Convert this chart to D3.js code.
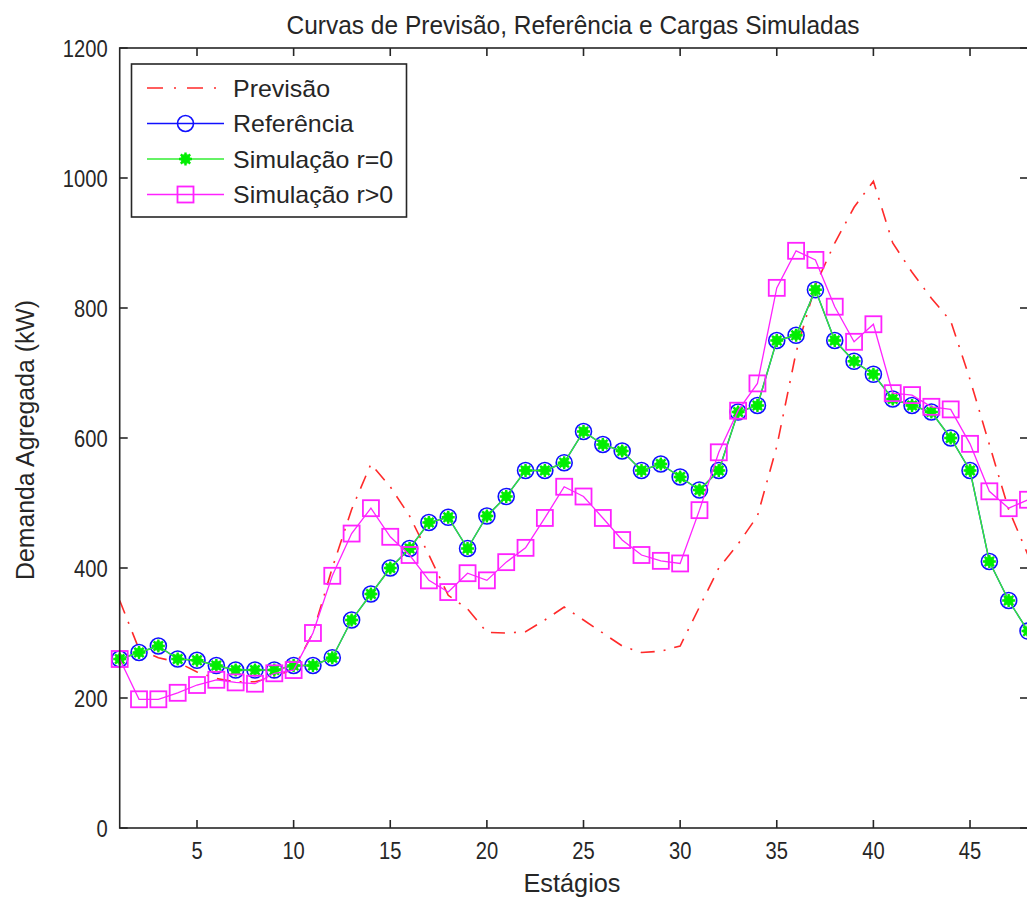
<!DOCTYPE html>
<html lang="pt">

<head>
    <meta charset="UTF-8">
    <title>Curvas de Previsão, Referência e Cargas Simuladas</title>
    <script src="https://cdn.jsdelivr.net/npm/d3@7"></script>
    <style>
        body { margin: 0; background: #fff; }
        svg { display: block; font-family: "Liberation Sans", Arial, sans-serif; }
        text { fill: #262626; }
    </style>
</head>

<body>
    <svg id="chart" width="1027" height="898"></svg>
    <script>
    var estagios = [1, 2, 3, 4, 5, 6, 7, 8, 9, 10, 11, 12, 13, 14, 15, 16, 17, 18, 19, 20, 21, 22, 23, 24,
        25, 26, 27, 28, 29, 30, 31, 32, 33, 34, 35, 36, 37, 38, 39, 40, 41, 42, 43, 44, 45, 46, 47, 48];

    var previsao = [350, 275, 262, 255, 240, 230, 225, 225, 232, 245, 300, 400, 490, 560, 525, 480,
        420, 358, 337, 301, 300, 302, 320, 340, 320, 300, 280, 270, 272, 280, 340, 400,
        437, 480, 587, 732, 835, 900, 955, 995, 900, 855, 815, 780, 690, 590, 490, 420];

    var referencia = [260, 270, 280, 260, 258, 250, 243, 243, 243, 250, 250, 262, 320, 360, 400, 430,
        470, 478, 430, 480, 510, 550, 550, 562, 610, 590, 580, 550, 560, 540, 520, 550,
        640, 650, 750, 758, 828, 750, 718, 698, 660, 650, 640, 600, 550, 410, 350, 303];

    var simR0 = [260, 270, 280, 260, 258, 250, 243, 243, 243, 250, 250, 262, 320, 360, 400, 430,
        470, 478, 430, 480, 510, 550, 550, 562, 610, 590, 580, 550, 560, 540, 520, 550,
        640, 650, 750, 758, 828, 750, 718, 698, 660, 650, 640, 600, 550, 410, 350, 303];

    var simRpos = [260, 198, 198, 208, 220, 228, 224, 222, 238, 243, 300, 388, 453, 492, 448, 420,
        381, 363, 392, 381, 409, 431, 477, 525, 510, 477, 443, 420, 411, 407, 489, 578,
        642, 684, 831, 888, 874, 802, 748, 775, 669, 666, 648, 644, 591, 518, 492, 505];

    var xTicks = [5, 10, 15, 20, 25, 30, 35, 40, 45];
    var yTicks = [0, 200, 400, 600, 800, 1000, 1200];

    var titulo = 'Curvas de Previsão, Referência e Cargas Simuladas',
        xLabel = 'Estágios',
        yLabel = 'Demanda Agregada (kW)';

    var legendas = ['Previsão', 'Referência', 'Simulação r=0', 'Simulação r>0'];

    var svg = d3.select('#chart'),
        plotLeft = 119.7,
        plotRight = 1028,
        plotTop = 48,
        plotBottom = 828;

    var x = d3.scaleLinear().domain([1, 48]).range([plotLeft, plotRight]);
    var y = d3.scaleLinear().domain([0, 1200]).range([plotBottom, plotTop]);

    var line = function(values) {
        return d3.line()
            .x(function(d, i) { return x(estagios[i]); })
            .y(function(d) { return y(d); })(values);
    };

    var plot = svg.append('g');

    // markers
    var drawCircle = function(g, cx, cy) {
        g.append('circle').attr('cx', cx).attr('cy', cy).attr('r', 8)
            .attr('fill', 'none').attr('stroke', '#1010ff').attr('stroke-width', 1.6);
    };
    var drawStar = function(g, cx, cy) {
        g.append('circle').attr('cx', cx).attr('cy', cy).attr('r', 5).attr('fill', '#22ee22');
        var s = 6.5, k = s * 0.72;
        g.append('path')
            .attr('d', 'M' + (cx - s) + ',' + cy + 'h' + (2 * s) + 'M' + cx + ',' + (cy - s) + 'v' + (2 * s) +
                'M' + (cx - k) + ',' + (cy - k) + 'l' + (2 * k) + ',' + (2 * k) +
                'M' + (cx - k) + ',' + (cy + k) + 'l' + (2 * k) + ',' + (-2 * k))
            .attr('stroke', '#00ee00').attr('stroke-width', 2.4);
    };
    var drawSquare = function(g, cx, cy) {
        g.append('rect').attr('x', cx - 8).attr('y', cy - 8).attr('width', 16).attr('height', 16)
            .attr('fill', 'none').attr('stroke', '#ff22ff').attr('stroke-width', 1.8);
    };

    // previsao
    plot.append('path').attr('d', line(previsao))
        .attr('fill', 'none').attr('stroke', '#ff2a2a').attr('stroke-width', 1.6)
        .attr('stroke-dasharray', '14,9,2,9');

    // referencia
    plot.append('path').attr('d', line(referencia))
        .attr('fill', 'none').attr('stroke', '#1010ff').attr('stroke-width', 1.4);
    referencia.forEach(function(d, i) { drawCircle(plot, x(estagios[i]), y(d)); });

    // simulacao r=0
    plot.append('path').attr('d', line(simR0))
        .attr('fill', 'none').attr('stroke', '#33ee33').attr('stroke-width', 1.4);
    simR0.forEach(function(d, i) { drawStar(plot, x(estagios[i]), y(d)); });

    // simulacao r>0
    plot.append('path').attr('d', line(simRpos))
        .attr('fill', 'none').attr('stroke', '#ff22ff').attr('stroke-width', 1.3);
    simRpos.forEach(function(d, i) { drawSquare(plot, x(estagios[i]), y(d)); });

    // axes box with inward ticks
    var axis = svg.append('g').attr('stroke', '#262626').attr('stroke-width', 1.6);
    axis.append('rect').attr('x', plotLeft).attr('y', plotTop)
        .attr('width', plotRight - plotLeft).attr('height', plotBottom - plotTop).attr('fill', 'none');

    xTicks.forEach(function(t) {
        axis.append('line').attr('x1', x(t)).attr('x2', x(t)).attr('y1', plotBottom).attr('y2', plotBottom - 8);
        axis.append('line').attr('x1', x(t)).attr('x2', x(t)).attr('y1', plotTop).attr('y2', plotTop + 8);
    });
    yTicks.forEach(function(t) {
        axis.append('line').attr('x1', plotLeft).attr('x2', plotLeft + 8).attr('y1', y(t)).attr('y2', y(t));
        axis.append('line').attr('x1', plotRight).attr('x2', plotRight - 8).attr('y1', y(t)).attr('y2', y(t));
    });

    // tick labels, a bit condensed like the original
    svg.append('g').selectAll('text').data(xTicks).enter().append('text')
        .attr('transform', function(d) { return 'translate(' + x(d) + ',' + (plotBottom + 31) + ') scale(0.84,1)'; })
        .attr('text-anchor', 'middle')
        .style('font-size', '24px')
        .text(function(d) { return d; });

    svg.append('g').selectAll('text').data(yTicks).enter().append('text')
        .attr('transform', function(d) { return 'translate(' + (plotLeft - 12) + ',' + (y(d) + 8.5) + ') scale(0.84,1)'; })
        .attr('text-anchor', 'end')
        .style('font-size', '24px')
        .text(function(d) { return d; });

    svg.append('text').attr('x', 573).attr('y', 34)
        .attr('text-anchor', 'middle').style('font-size', '26px')
        .attr('textLength', 573).attr('lengthAdjust', 'spacingAndGlyphs').text(titulo);

    svg.append('text').attr('x', 572).attr('y', 892)
        .attr('text-anchor', 'middle').style('font-size', '26px')
        .attr('textLength', 97).attr('lengthAdjust', 'spacingAndGlyphs').text(xLabel);

    svg.append('text').attr('transform', 'translate(34,440) rotate(-90)')
        .attr('text-anchor', 'middle').style('font-size', '26px')
        .attr('textLength', 280).attr('lengthAdjust', 'spacingAndGlyphs').text(yLabel);

    // legend
    var leg = svg.append('g');
    leg.append('rect').attr('x', 131.5).attr('y', 64).attr('width', 275).attr('height', 153)
        .attr('fill', '#fff').attr('stroke', '#262626').attr('stroke-width', 1.6);

    var styles = [
        { color: '#ff2a2a', dash: '16,11,2,11', mark: null },
        { color: '#1010ff', dash: null, mark: drawCircle },
        { color: '#33ee33', dash: null, mark: drawStar },
        { color: '#ff22ff', dash: null, mark: drawSquare }
    ];

    legendas.forEach(function(name, i) {
        var ly = 88 + i * 35.5;
        leg.append('line').attr('x1', 147).attr('x2', 224).attr('y1', ly).attr('y2', ly)
            .attr('stroke', styles[i].color).attr('stroke-width', 1.5)
            .attr('stroke-dasharray', styles[i].dash);
        if (styles[i].mark) styles[i].mark(leg, 185.5, ly);
        leg.append('text').attr('transform', 'translate(233,' + (ly + 8.5) + ') scale(1.04,1)')
            .style('font-size', '24px').text(name);
    });
    </script>
</body>

</html>
